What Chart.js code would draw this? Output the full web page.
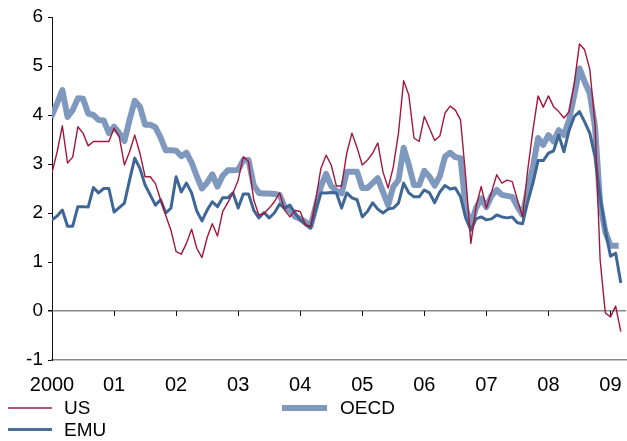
<!DOCTYPE html>
<html>
<head>
<meta charset="utf-8">
<script src="https://cdn.jsdelivr.net/npm/chart.js@4.4.1/dist/chart.umd.min.js"></script>
<style>
  html, body { margin: 0; padding: 0; background: #fff; }
  #wrap { position: relative; width: 627px; height: 441px; overflow: hidden; }
  #chart { position: absolute; left: 0; top: 0; }
  .key { position: absolute; height: 0; }
  .key-label { position: absolute; font-family: "Liberation Sans", Arial, sans-serif; font-size: 19px; color: #000; line-height: 20px; }
</style>
</head>
<body>
<div id="wrap">
  <canvas id="chart" width="627" height="441"></canvas>
  <div class="key" style="left:8px;top:407px;width:44px;border-top:2px solid #b0566f;"></div>
  <div class="key-label" style="left:64px;top:398px;">US</div>
  <div class="key" style="left:8px;top:428px;width:44px;border-top:3.5px solid #4a6f9c;"></div>
  <div class="key-label" style="left:64px;top:420px;">EMU</div>
  <div class="key" style="left:282px;top:405px;width:45px;border-top:6px solid #7f98be;"></div>
  <div class="key-label" style="left:340px;top:398px;">OECD</div>
</div>
<script>
// Year labels on the time axis (one per January)
const years = ['2000', '01', '02', '03', '04', '05', '06', '07', '08', '09'];

// Monthly values, Jan 2000 onwards (%)
const us = [
  2.82, 3.25, 3.78, 3.02, 3.14, 3.76, 3.63, 3.37, 3.46, 3.46, 3.46, 3.46,
  3.73, 3.56, 2.98, 3.25, 3.59, 3.22, 2.74, 2.74, 2.60, 2.27, 1.95, 1.65,
  1.21, 1.16, 1.38, 1.67, 1.28, 1.09, 1.50, 1.78, 1.53, 2.03, 2.21, 2.41,
  2.67, 3.15, 3.05, 2.27, 1.96, 1.99, 2.10, 2.23, 2.41, 2.06, 1.92, 2.05,
  2.03, 1.76, 1.72, 2.27, 2.91, 3.18, 2.98, 2.55, 2.55, 3.22, 3.63, 3.33,
  2.98, 3.08, 3.22, 3.43, 2.84, 2.51, 2.94, 3.63, 4.70, 4.41, 3.53, 3.46,
  3.97, 3.73, 3.48, 3.57, 4.04, 4.18, 4.10, 3.90, 2.74, 1.38, 2.13, 2.54,
  2.10, 2.43, 2.78, 2.61, 2.67, 2.64, 2.27, 1.92, 2.88, 3.69, 4.39, 4.16,
  4.39, 4.17, 4.07, 3.94, 4.07, 4.65, 5.45, 5.33, 4.93, 3.83, 1.04, -0.04,
  -0.12, 0.10, -0.42
];

const emu = [
  1.86, 1.94, 2.06, 1.73, 1.73, 2.13, 2.13, 2.12, 2.52, 2.41, 2.50, 2.50,
  2.02, 2.11, 2.20, 2.67, 3.12, 2.91, 2.57, 2.37, 2.16, 2.27, 2.00, 2.10,
  2.74, 2.43, 2.61, 2.41, 2.04, 1.84, 2.06, 2.23, 2.13, 2.31, 2.31, 2.41,
  2.10, 2.39, 2.39, 2.06, 1.90, 2.01, 1.90, 2.00, 2.18, 2.10, 2.16, 2.00,
  1.86, 1.76, 1.69, 2.06, 2.41, 2.41, 2.42, 2.41, 2.10, 2.41, 2.31, 2.27,
  1.92, 2.03, 2.21, 2.08, 2.00, 2.08, 2.10, 2.20, 2.61, 2.41, 2.33, 2.33,
  2.47, 2.41, 2.21, 2.43, 2.56, 2.49, 2.51, 2.33, 1.90, 1.65, 1.88, 1.92,
  1.86, 1.88, 1.96, 1.92, 1.90, 1.92, 1.80, 1.78, 2.23, 2.61, 3.07, 3.07,
  3.22, 3.27, 3.59, 3.25, 3.69, 3.97, 4.07, 3.86, 3.63, 3.15, 2.33, 1.65,
  1.12, 1.18, 0.57
];

const oecd = [
  4.00, 4.24, 4.51, 3.96, 4.10, 4.34, 4.33, 4.03, 4.00, 3.90, 3.89, 3.63,
  3.76, 3.63, 3.47, 3.90, 4.29, 4.17, 3.80, 3.80, 3.75, 3.54, 3.28, 3.28,
  3.27, 3.16, 3.23, 3.03, 2.75, 2.50, 2.62, 2.79, 2.54, 2.76, 2.87, 2.87,
  2.88, 3.08, 3.08, 2.57, 2.41, 2.40, 2.40, 2.39, 2.37, 2.12, 2.05, 1.93,
  1.88, 1.82, 1.73, 2.13, 2.54, 2.80, 2.55, 2.45, 2.40, 2.84, 2.84, 2.84,
  2.51, 2.51, 2.61, 2.71, 2.43, 2.16, 2.54, 2.67, 3.33, 2.98, 2.57, 2.57,
  2.86, 2.74, 2.56, 2.75, 3.15, 3.23, 3.14, 3.12, 2.10, 1.76, 2.10, 2.30,
  2.12, 2.35, 2.47, 2.37, 2.35, 2.33, 2.13, 1.96, 2.47, 2.94, 3.53, 3.39,
  3.59, 3.46, 3.69, 3.59, 3.90, 4.41, 4.95, 4.68, 4.44, 3.76, 2.20, 1.62,
  1.33, 1.33
];

const yTicks = [-1, 0, 1, 2, 3, 4, 5, 6];

// month index -> point
const series = arr => arr.map((v, i) => ({ x: i, y: v }));

// Year tick marks hang below the zero line
const zeroLineTicks = {
  id: 'zeroLineTicks',
  beforeDatasetsDraw(chart) {
    const { ctx, scales: { x, y } } = chart;
    const y0 = y.getPixelForValue(0);
    ctx.save();
    ctx.strokeStyle = '#111';
    ctx.lineWidth = 1;
    years.forEach((_, k) => {
      const px = Math.round(x.getPixelForValue(k * 12)) + 0.5;
      ctx.beginPath();
      ctx.moveTo(px, y0);
      ctx.lineTo(px, y0 + 5);
      ctx.stroke();
    });
    ctx.restore();
  }
};

const font = 'Liberation Sans, Arial, sans-serif';

new Chart(document.getElementById('chart'), {
  type: 'line',
  data: {
    datasets: [
      { label: 'US', data: series(us), borderColor: '#a3173c', borderWidth: 1.4 },
      { label: 'EMU', data: series(emu), borderColor: '#3f6795', borderWidth: 3 },
      { label: 'OECD', data: series(oecd), borderColor: '#7f98be', borderWidth: 6, borderCapStyle: 'square' }
    ]
  },
  options: {
    responsive: false,
    animation: false,
    layout: { padding: { top: 17, right: 1, left: 0, bottom: 0 } },
    elements: {
      point: { radius: 0, hoverRadius: 0 },
      line: { tension: 0, borderJoinStyle: 'round', fill: false }
    },
    plugins: { legend: { display: false }, tooltip: { enabled: false } },
    scales: {
      x: {
        type: 'linear',
        min: 0,
        max: 111,
        afterFit: s => { s.height = 81; },
        afterBuildTicks: s => { s.ticks = years.map((_, k) => ({ value: k * 12 })); },
        grid: { display: false },
        border: { display: true, color: '#8a8a8a', width: 1.5 },
        ticks: {
          autoSkip: false,
          maxRotation: 0,
          padding: 5,
          color: '#000',
          font: { family: font, size: 20 },
          callback: v => years[Math.round(v / 12)]
        }
      },
      y: {
        min: -1,
        max: 6,
        afterFit: s => { s.width = 52; },
        afterBuildTicks: s => { s.ticks = yTicks.map(v => ({ value: v })); },
        grid: {
          drawOnChartArea: true,
          color: c => (c.tick && c.tick.value === 0 ? '#8a8a8a' : 'rgba(0,0,0,0)'),
          lineWidth: c => (c.tick && c.tick.value === 0 ? 1.5 : 1),
          tickColor: '#111',
          tickLength: 4
        },
        border: { display: true, color: '#111', width: 1 },
        ticks: {
          padding: 5,
          color: '#000',
          font: { family: font, size: 19 },
          callback: v => String(v)
        }
      }
    }
  },
  plugins: [zeroLineTicks]
});
</script>
</body>
</html>
